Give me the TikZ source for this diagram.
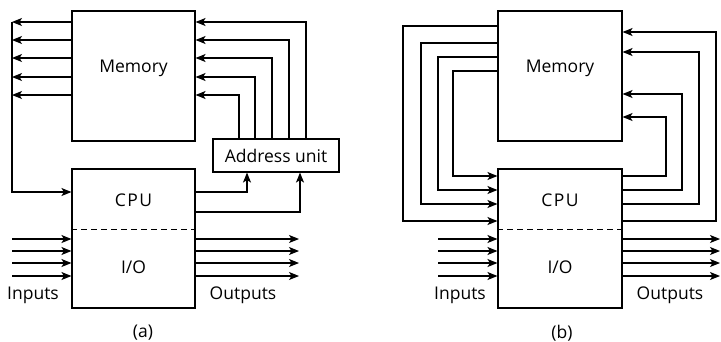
\documentclass[tikz,border=0pt]{standalone}
\usepackage{fontspec}
\setmainfont{Open Sans}
\usetikzlibrary{arrows.meta}
\begin{document}
\begin{tikzpicture}[x=1pt,y=-1pt,
  box/.style={draw,line width=1.1pt,inner sep=0pt},
  lbl/.style={font=\fontsize{17.5}{20}\selectfont,inner sep=0pt},
  wire/.style={line width=1.1pt},
  sep/.style={line width=0.9pt,dash pattern=on 5.5pt off 4.5pt},
  arr/.style={wire,-{Stealth[length=10pt,width=8pt,inset=2.5pt]}}]
\useasboundingbox (0,0) rectangle (721,341);
% ---------- panel (a) ----------
\node[box,minimum width=123pt,minimum height=130pt] (memA) at (133.5,76) {};
\node[box,minimum width=123pt,minimum height=139pt] (cpuA) at (133.5,238.5) {};
\node[box,lbl,minimum width=126pt,minimum height=33pt] (addr) at (276,155.5) {Address unit};
\node[lbl] (memAt) at (133.5,68) {Memory};
\node[lbl] (cpuAt) at (133.5,200) {C\kern1.5pt P\kern1.5pt U};
\node[lbl] (ioAt) at (133.5,267) {I/O};
\draw[sep] (cpuA.west |- 0,229) -- (cpuA.east |- 0,229);
\foreach \y in {22,40,58,77,95}
  \draw[arr] (memA.west |- 0,\y) -- (12,\y);
\coordinate (busA) at (12,192);
\draw[arr] (12,22) -- (busA) -- (cpuA.west |- busA);
\foreach \x/\y in {306/22,289/40,272/58,255/77,239/95}
  \draw[arr] (addr.north -| \x,0) -- (\x,\y) -- (memA.east |- 0,\y);
\draw[arr] (cpuA.east |- 0,192) -- (247,192) -- (addr.south -| 247,0);
\draw[arr] (cpuA.east |- 0,212) -- (300,212) -- (addr.south -| 300,0);
\foreach \y in {239,251,263,276}{
  \draw[arr] (12,\y) -- (cpuA.west |- 0,\y);
  \draw[arr] (cpuA.east |- 0,\y) -- (299,\y);
}
\node[lbl] (inA) at (33,295) {Inputs};
\node[lbl] (outA) at (243,295) {Outputs};
\node[lbl] (capA) at (143,333) {(a)};
% ---------- panel (b) ----------
\node[box,minimum width=124pt,minimum height=130pt] (memB) at (560,76) {};
\node[box,minimum width=124pt,minimum height=139pt] (cpuB) at (560,238.5) {};
\node[lbl] (memBt) at (560,68) {Memory};
\node[lbl] (cpuBt) at (560,200) {C\kern1.5pt P\kern1.5pt U};
\node[lbl] (ioBt) at (560,267) {I/O};
\draw[sep] (cpuB.west |- 0,229) -- (cpuB.east |- 0,229);
\foreach \ym/\x/\yc in {26/403/221,43/421/204,57/438/190,71/453/176}
  \draw[arr] (memB.west |- 0,\ym) -- (\x,\ym) -- (\x,\yc) -- (cpuB.west |- 0,\yc);
\foreach \yc/\x/\ym in {176/666/117,190/682/94,204/699/52,221/716/32}
  \draw[arr] (cpuB.east |- 0,\yc) -- (\x,\yc) -- (\x,\ym) -- (memB.east |- 0,\ym);
\foreach \y in {239,251,263,276}{
  \draw[arr] (438,\y) -- (cpuB.west |- 0,\y);
  \draw[arr] (cpuB.east |- 0,\y) -- (720,\y);
}
\node[lbl] (inB) at (460,295) {Inputs};
\node[lbl] (outB) at (670,295) {Outputs};
\node[lbl] (capB) at (562,333) {(b)};
\end{tikzpicture}
\end{document}
